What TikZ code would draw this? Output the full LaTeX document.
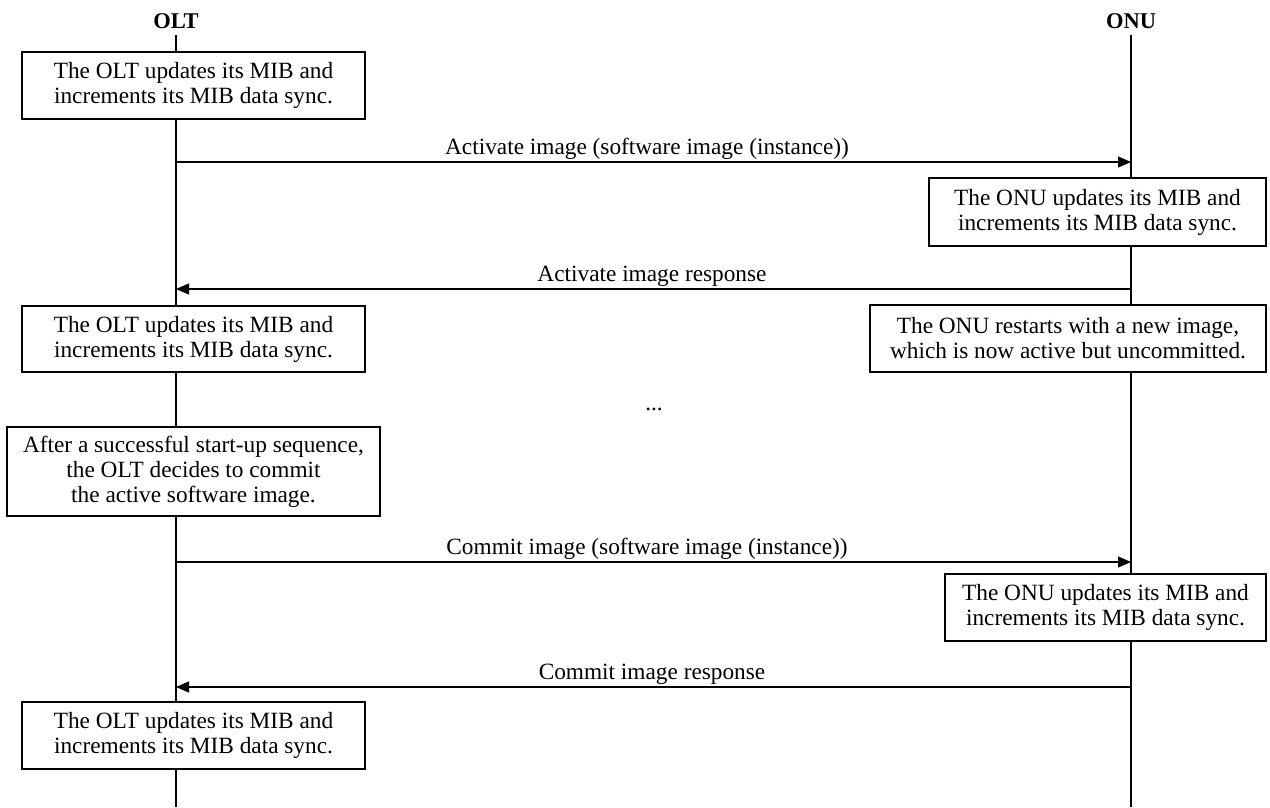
\documentclass[tikz,border=0pt]{standalone}
\usepackage{fontspec}
\setmainfont{Liberation Serif}
\usetikzlibrary{arrows.meta}
\begin{document}
\begin{tikzpicture}[x=1pt,y=-1pt,
  txt/.style={font=\fontsize{23.3}{25}\selectfont},
  box/.style={txt, draw, line width=1.2pt, fill=white, align=center, inner sep=0pt},
  msg/.style={line width=1.2pt, -{Triangle[length=13pt,width=11pt]}},
  lbl/.style={txt, anchor=base},
  hdr/.style={font=\fontsize{22.5}{25}\selectfont\bfseries, anchor=base},
  life/.style={line width=1.2pt}]
\useasboundingbox (0,0) rectangle (1270,807);
% headers
\node[hdr] (olt) at (176,28) {OLT};
\node[hdr] (onu) at (1131,28) {ONU};
% lifelines
\coordinate (olttop) at (176,35);
\coordinate (oltbot) at (176,807);
\coordinate (onutop) at (1131,35);
\coordinate (onubot) at (1131,807);
\draw[life] (olttop) -- (oltbot);
\draw[life] (onutop) -- (onubot);
% boxes
\node[box, minimum width=343pt, minimum height=67pt] (b1) at (193.5,85.5)
  {The OLT updates its MIB and\\increments its MIB data sync.};
\node[box, minimum width=337pt, minimum height=68pt] (o1) at (1097.5,212)
  {The ONU updates its MIB and\\increments its MIB data sync.};
\node[box, minimum width=343pt, minimum height=66pt] (b2) at (193.5,339)
  {The OLT updates its MIB and\\increments its MIB data sync.};
\node[box, minimum width=396pt, minimum height=67pt] (o2) at (1068,338.5)
  {The ONU restarts with a new image,\\which is now active but uncommitted.};
\node[box, minimum width=373pt, minimum height=89pt] (b3) at (193.5,471.5)
  {After a successful start-up sequence,\\the OLT decides to commit\\the active software image.};
\node[box, minimum width=321pt, minimum height=67pt] (o3) at (1105.5,607.5)
  {The ONU updates its MIB and\\increments its MIB data sync.};
\node[box, minimum width=343pt, minimum height=67pt] (b4) at (193.5,735.5)
  {The OLT updates its MIB and\\increments its MIB data sync.};
\node[lbl] (dots) at (654,410) {...};
% messages
\coordinate (m1a) at (176,162);  \coordinate (m1b) at (1131,162);
\coordinate (m2a) at (1131,289); \coordinate (m2b) at (176,289);
\coordinate (m3a) at (176,562);  \coordinate (m3b) at (1131,562);
\coordinate (m4a) at (1131,687); \coordinate (m4b) at (176,687);
\draw[msg] (m1a) -- (m1b);
\draw[msg] (m2a) -- (m2b);
\draw[msg] (m3a) -- (m3b);
\draw[msg] (m4a) -- (m4b);
\node[lbl] (l1) at (647,154) {Activate image (software image (instance))};
\node[lbl] (l2) at (652,281) {Activate image response};
\node[lbl] (l3) at (647,554) {Commit image (software image (instance))};
\node[lbl] (l4) at (652,679) {Commit image response};
\end{tikzpicture}
\end{document}
